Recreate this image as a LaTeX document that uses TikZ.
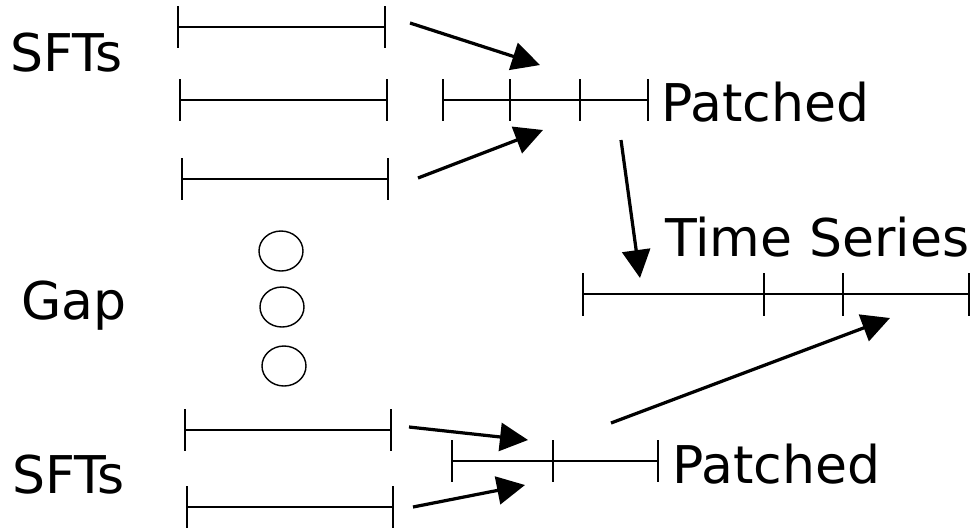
\documentclass[tikz,border=0pt]{standalone}
\usepackage{fontspec}
\setmainfont{DejaVu Sans}
\usetikzlibrary{arrows.meta}

\tikzset{
  seg/.style={line width=1pt},
  bigarrow/.style={line width=2.3pt,-{Triangle[length=0.7cm,width=0.7cm]}},
  lbl/.style={anchor=base west,inner sep=0pt,font=\fontsize{37}{44}\selectfont},
}

\begin{document}
\begin{tikzpicture}[x=0.025cm,y=-0.025cm]
\useasboundingbox (0,0) rectangle (979,529);
% labels
\node[lbl] (sftstop) at (10,71) {SFTs};
\node[lbl] (gap) at (21,319) {Gap};
\node[lbl] (sftsbot) at (12,493) {SFTs};
\node[lbl] (patchtop) at (661,121) {Patched};
\node[lbl] (series) at (665,256) {Time Series};
\node[lbl] (patchbot) at (672,483) {Patched};
% the SFT segments
\foreach \xa/\xb/\y in {178/385/27, 180/387/100, 182/388/179, 185/391/430, 187/393/507}{
  \draw[seg] (\xa,\y) -- (\xb,\y);
  \draw[seg] (\xa,\y-21) -- (\xa,\y+21);
  \draw[seg] (\xb,\y-21) -- (\xb,\y+21);
}
% patched (top)
\draw[seg] (443,100) -- (648,100);
\foreach \x in {443,510,580,648}
  \draw[seg] (\x,79) -- (\x,121);
% time series
\draw[seg] (583,294) -- (969,294);
\foreach \x in {583,764,843,969}
  \draw[seg] (\x,273) -- (\x,316);
% patched (bottom)
\draw[seg] (452,461) -- (658,461);
\foreach \x in {452,553,658}
  \draw[seg] (\x,440) -- (\x,482);
% gap dots
\draw[seg] (281,251) circle[x radius=22,y radius=20];
\draw[seg] (282,307) circle[x radius=22,y radius=20];
\draw[seg] (284,366) circle[x radius=22,y radius=20];
% arrows
\coordinate (a1s) at (410,23);  \coordinate (a1e) at (540,65);
\coordinate (a2s) at (418,178); \coordinate (a2e) at (543,130);
\coordinate (a3s) at (621,140); \coordinate (a3e) at (640,278);
\coordinate (a4s) at (611,423); \coordinate (a4e) at (890,318);
\coordinate (a5s) at (409,427); \coordinate (a5e) at (528,440);
\coordinate (a6s) at (413,507); \coordinate (a6e) at (525,485);
\draw[bigarrow] (a1s) -- (a1e);
\draw[bigarrow] (a2s) -- (a2e);
\draw[bigarrow] (a3s) -- (a3e);
\draw[bigarrow] (a4s) -- (a4e);
\draw[bigarrow] (a5s) -- (a5e);
\draw[bigarrow] (a6s) -- (a6e);
\end{tikzpicture}
\end{document}
